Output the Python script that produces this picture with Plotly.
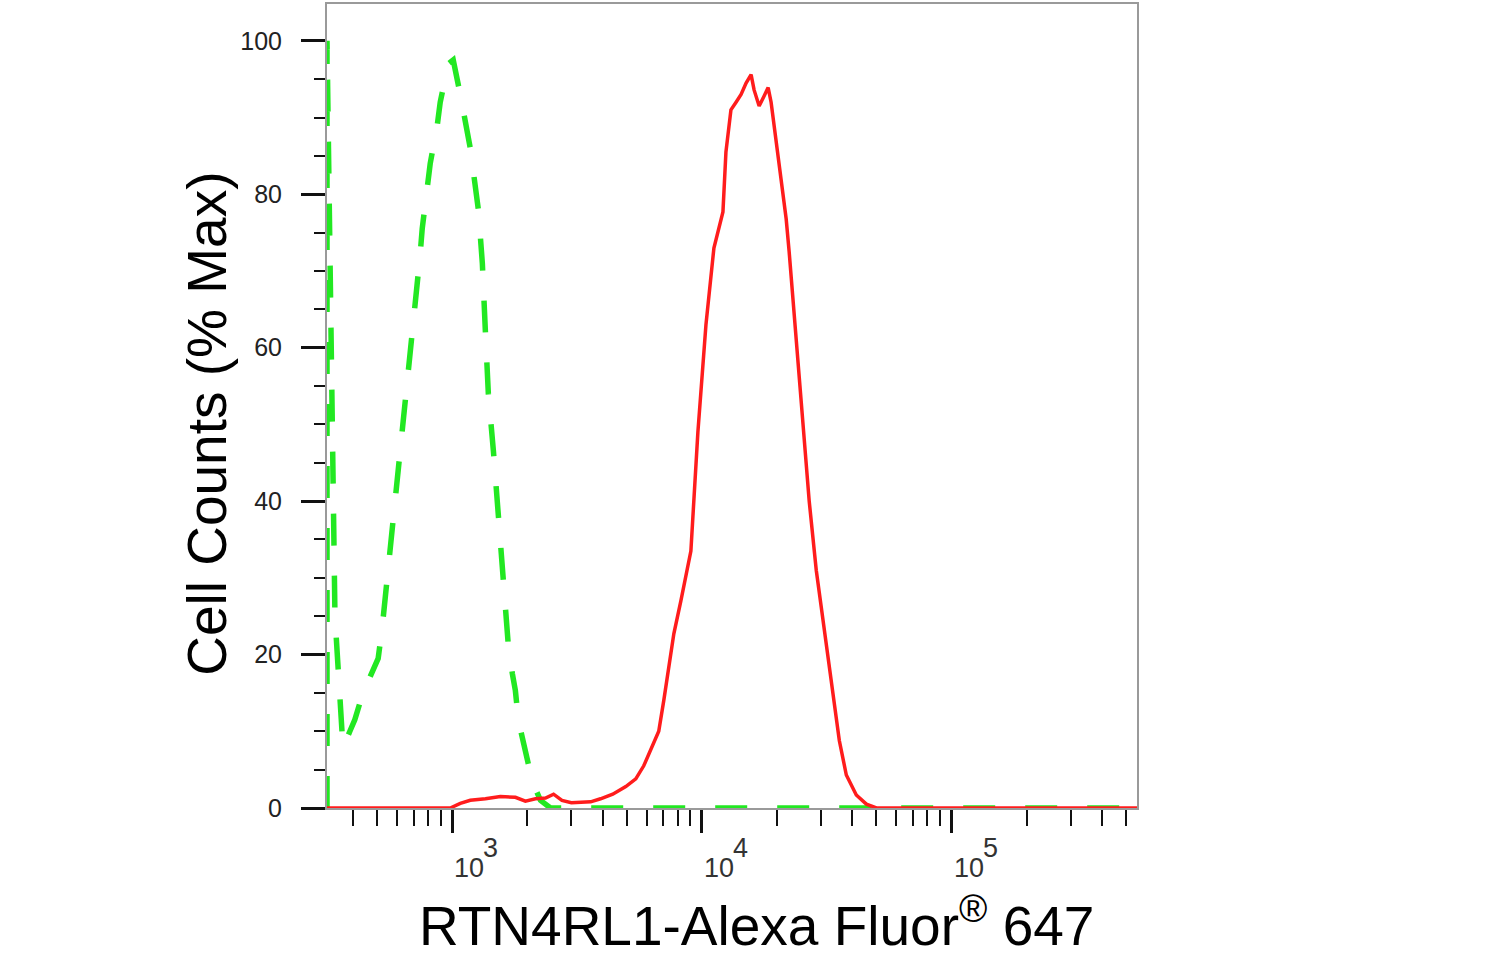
import plotly.graph_objects as go
import math

# ---- data (fluorescence intensity, % of max) ----
control_x = [315, 315, 339, 365, 389, 407, 439, 469, 505, 524, 553, 590, 636, 678, 710,
             743, 758, 794, 816, 871, 895, 964, 1009, 1077, 1181, 1272, 1320, 1358, 1395,
             1462, 1531, 1603, 1679, 1741, 1790, 1841, 1963, 2095, 2256, 2475, 553000]
control_y = [0, 100, 25, 7.9, 10, 11.5, 15, 17, 19.5, 23.5, 31, 40, 50, 58, 66,
             72, 75.5, 81, 84, 89, 92, 97, 97.5, 93, 86, 78, 71, 62, 54,
             46.5, 38, 29, 21, 17.5, 15.3, 11.4, 7, 3.4, 1, 0, 0]

sample_x = [315, 982, 1077, 1181, 1358, 1559, 1790, 1963, 2155, 2364, 2546, 2750, 3000,
            3584, 3927, 4394, 4955, 5434, 5849, 6239, 6716, 7034, 7366, 7718, 8236,
            9033, 9636, 10380, 11170, 12140, 12480, 13070, 13700, 14350, 15030, 15740,
            16180, 16950, 17750, 18420, 18930, 19830, 20770, 21750, 22360, 23190, 24300,
            24980, 25680, 26900, 28710, 30650, 32990, 35510, 37880, 41530, 45570, 49990,
            553000]
sample_y = [0, 0, 0.6, 1.0, 1.2, 1.5, 1.4, 0.9, 1.2, 1.3, 1.8, 1.0, 0.7,
            0.8, 1.2, 1.8, 2.8, 3.8, 5.5, 7.5, 10, 14, 18, 22.7, 27,
            33.5, 49, 63, 73, 77.7, 85.5, 91, 92, 93, 94.5, 95.6,
            93.6, 91.5, 92.8, 93.9, 92, 87, 82.5, 76.8, 72.5, 66, 58,
            53, 49, 40, 31, 24.4, 16.6, 8.8, 4.3, 1.7, 0.5, 0,
            0]

x_major = [1000, 10000, 100000]
x_minor = [400, 500, 600, 700, 800, 900,
           2000, 3000, 4000, 5000, 6000, 7000, 8000, 9000,
           20000, 30000, 40000, 50000, 60000, 70000, 80000, 90000,
           200000, 300000, 400000, 500000]
y_major = [0, 20, 40, 60, 80, 100]
y_minor = [5, 10, 15, 25, 30, 35, 45, 50, 55, 65, 70, 75, 85, 90, 95]
x_range = [315, 553000]
y_range = [0, 104.8]

x_title = "RTN4RL1-Alexa Fluor<sup>®</sup> 647"
y_title = "Cell Counts (% Max)"

fig = go.Figure()
fig.add_trace(go.Scatter(x=control_x, y=control_y, mode="lines",
                         line=dict(color="#22e822", width=5.5, dash="32px,30px"),
                         showlegend=False, hoverinfo="skip"))
fig.add_trace(go.Scatter(x=sample_x, y=sample_y, mode="lines",
                         line=dict(color="#ff1c1c", width=3.5),
                         showlegend=False, hoverinfo="skip"))

fig.update_layout(
    width=1494, height=956,
    margin=dict(l=327, r=357, t=2, b=148),
    paper_bgcolor="white", plot_bgcolor="white",
    font=dict(family="Liberation Sans, Arial, sans-serif", color="#222"),
)
fig.update_xaxes(
    type="log", range=[math.log10(x_range[0]), math.log10(x_range[1])],
    showgrid=False, zeroline=False,
    showline=True, linecolor="#9a9a9a", linewidth=2, mirror=True,
    tickmode="array", tickvals=x_major, showticklabels=False,
    ticks="outside", ticklen=23, tickwidth=3, tickcolor="#111",
    minor=dict(tickmode="array", tickvals=x_minor, ticks="outside",
               ticklen=16, tickwidth=2, tickcolor="#111", showgrid=False),
)
fig.update_yaxes(
    range=y_range, showgrid=False, zeroline=False,
    showline=True, linecolor="#9a9a9a", linewidth=2, mirror=True,
    tickmode="array", tickvals=y_major, ticktext=[str(v) for v in y_major],
    ticks="outside", ticklen=24, tickwidth=3, tickcolor="#111",
    tickfont=dict(size=25, color="#222", family="Liberation Sans, Arial, sans-serif"),
    ticklabelstandoff=14,
    minor=dict(tickmode="array", tickvals=y_minor, ticks="outside",
               ticklen=11, tickwidth=2, tickcolor="#111", showgrid=False),
)

annotations = []
for v in x_major:
    e = int(round(math.log10(v)))
    annotations.append(dict(x=e, xref="x", y=0, yref="paper", text="10",
                            showarrow=False, xanchor="left", yanchor="top",
                            xshift=0, yshift=-43,
                            font=dict(size=27, color="#333")))
    annotations.append(dict(x=e, xref="x", y=0, yref="paper", text=str(e),
                            showarrow=False, xanchor="left", yanchor="top",
                            xshift=29, yshift=-23,
                            font=dict(size=27, color="#333")))
annotations.append(dict(x=0.53, xref="paper", y=-0.142, yref="paper", text=x_title,
                        showarrow=False, xanchor="center", yanchor="middle",
                        font=dict(size=55, color="black")))
annotations.append(dict(x=-0.148, xref="paper", y=0.478, yref="paper", text=y_title,
                        showarrow=False, xanchor="center", yanchor="middle", textangle=-90,
                        font=dict(size=55, color="black")))
fig.update_layout(annotations=annotations)

fig.write_html("out.html", config={"displayModeBar": False},
               post_script="document.body.style.margin='0';")
